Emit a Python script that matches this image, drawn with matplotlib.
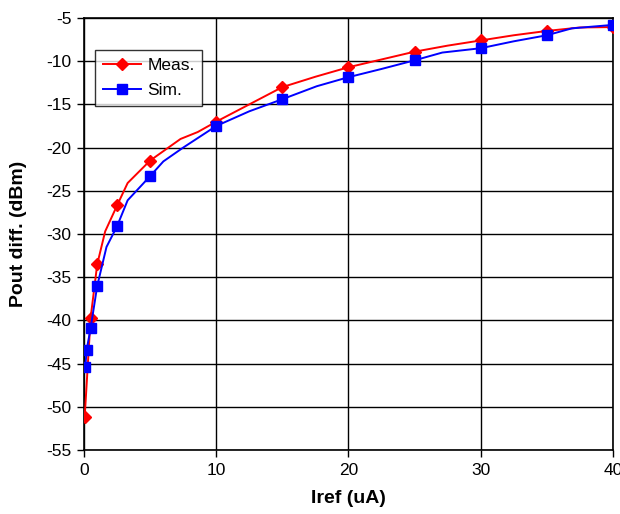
import numpy as np
import matplotlib
matplotlib.use("Agg")
import matplotlib.pyplot as plt

plt.rcParams["font.family"] = ["Liberation Sans", "DejaVu Sans"]
plt.rcParams["axes.unicode_minus"] = False

meas_x = [0.05, 0.5, 1, 1.6, 2.5, 3.3, 5, 7.3, 8.6, 10, 12.5, 15, 17.5, 20,
          22.5, 25, 27.5, 30, 32.5, 35, 37.5, 40]
meas_y = [-51.2, -39.7, -33.5, -29.7, -26.7, -24.1, -21.5, -19.0, -18.2, -17.0,
          -15.0, -13.0, -11.8, -10.7, -9.8, -8.9, -8.2, -7.6, -7.0, -6.5, -6.1, -6.05]
meas_mark_x = [0.05, 0.5, 1, 2.5, 5, 10, 15, 20, 25, 30, 35, 40]

# Simulated curve
sim_x = [0.1, 0.2, 0.5, 1, 1.7, 2.5, 3.3, 5, 6, 7.5, 10, 12.5, 15, 17.6, 20,
         22.5, 25, 27.1, 30, 32.5, 35, 36.9, 40]
sim_y = [-45.4, -43.4, -40.9, -36.0, -31.5, -29.1, -26.1, -23.3, -21.6, -20.0,
         -17.5, -15.8, -14.4, -12.9, -11.85, -10.9, -9.9, -9.0, -8.5, -7.7,
         -7.0, -6.2, -5.8]
sim_mark_x = [0.1, 0.2, 0.5, 1, 2.5, 5, 10, 15, 20, 25, 30, 35, 40]

x_ticks = [0, 10, 20, 30, 40]
y_ticks = list(range(-55, 0, 5))

fig = plt.figure(figsize=(6.2, 5.14), dpi=100)
ax = fig.add_axes([0.1355, 0.1245, 0.853, 0.8405])

ax.plot(meas_x, meas_y, color="#ff0000", lw=1.4, marker="D", ms=6.5,
        markevery=list(np.flatnonzero(np.isin(meas_x, meas_mark_x))),
        label="Meas.", zorder=3)
ax.plot(sim_x, sim_y, color="#0000ff", lw=1.4, marker="s", ms=7.5,
        markevery=list(np.flatnonzero(np.isin(sim_x, sim_mark_x))),
        label="Sim.", zorder=3)

ax.set_xlim(0, 40)
ax.set_ylim(-55, -5)
ax.set_xticks(x_ticks)
ax.set_yticks(y_ticks)
ax.grid(True, color="black", lw=1)
ax.tick_params(direction="out", length=5, width=1, labelsize=12.5, colors="black", pad=4)
for s in ax.spines.values():
    s.set_linewidth(1.2)

ax.set_xlabel("Iref (uA)", fontsize=14, fontweight="bold", labelpad=9)
ax.set_ylabel("Pout diff. (dBm)", fontsize=14, fontweight="bold", labelpad=14)

leg = ax.legend(loc="upper left", bbox_to_anchor=(0.021, 0.926), borderaxespad=0,
                fontsize=12.5, frameon=True, fancybox=False, handlelength=2.2,
                handletextpad=0.35, borderpad=0.45, labelspacing=0.6)
leg.get_frame().set_edgecolor("black")
leg.get_frame().set_linewidth(1)

fig.savefig("out.png", dpi=100)
